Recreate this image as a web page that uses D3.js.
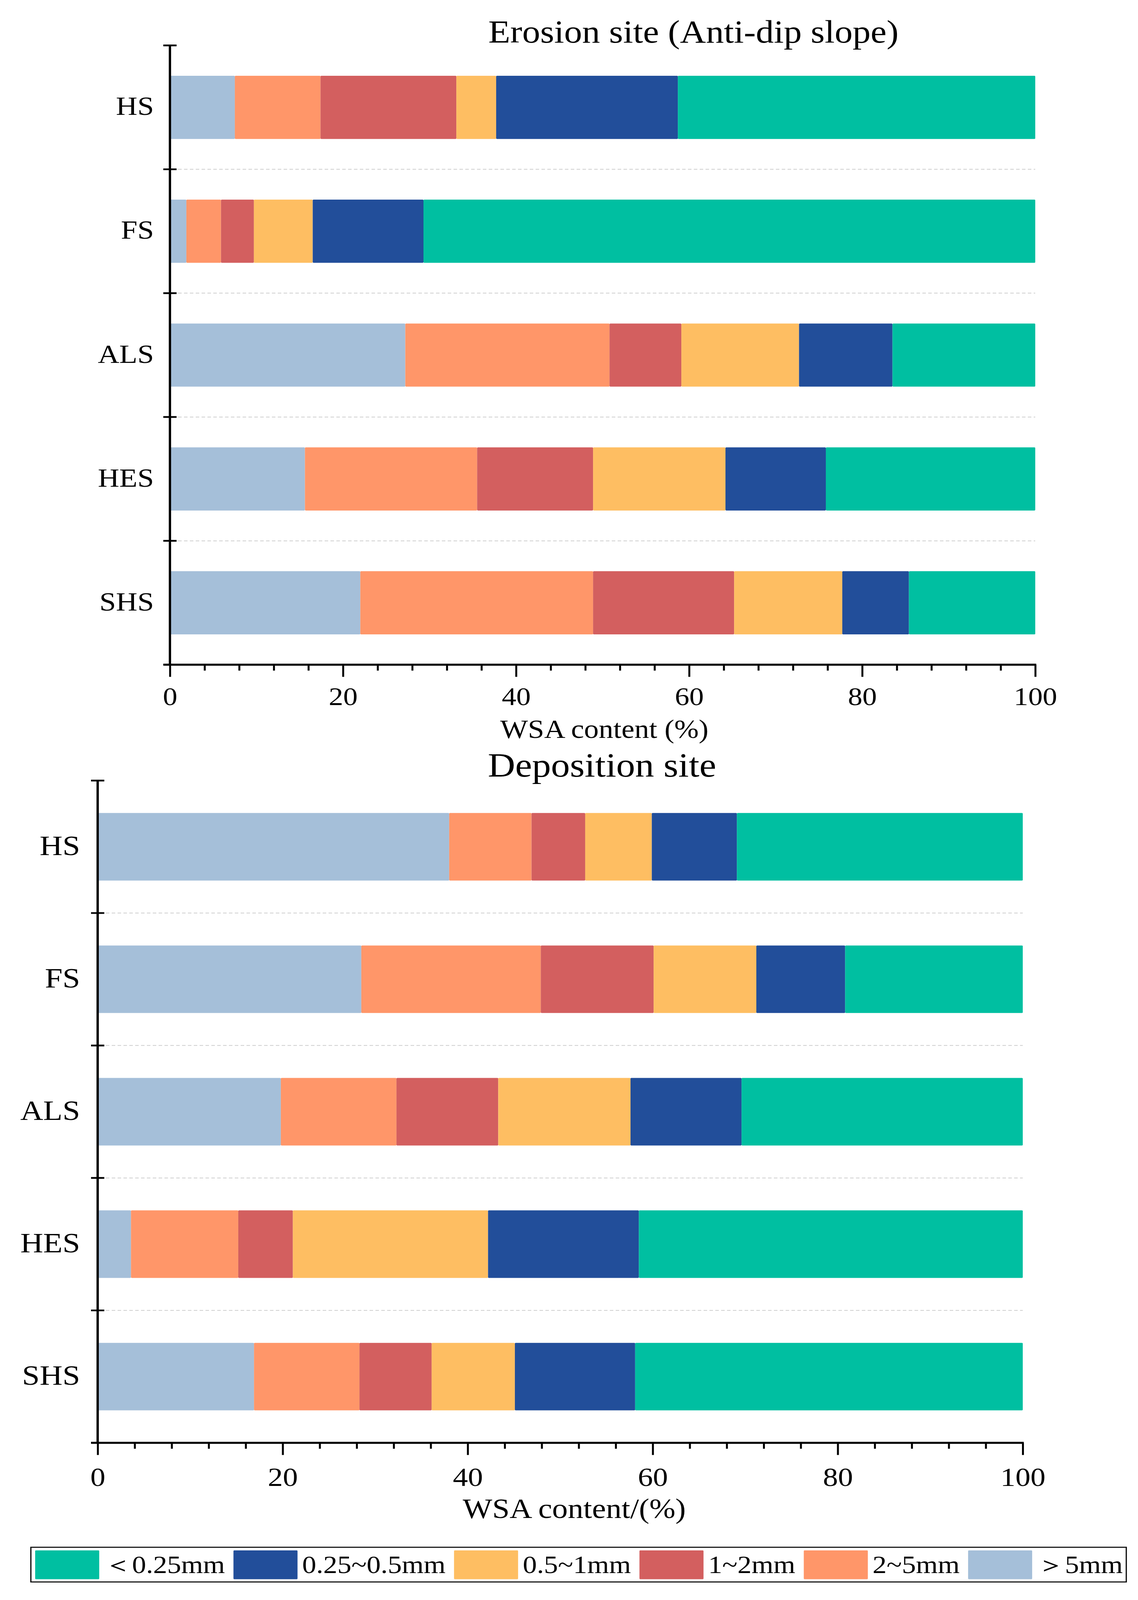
<!DOCTYPE html>
<html>
<head>
<meta charset="utf-8">
<script src="https://cdn.jsdelivr.net/npm/d3@7"></script>
<style>
  html, body { margin: 0; padding: 0; background: #fff; overflow: hidden; }
  svg { display: block; }
  text { font-family: "Liberation Serif", "Times New Roman", serif; fill: #000; }
</style>
</head>
<body>
<svg id="chart"></svg>
<script>
// ---------------- DATA ----------------
const categories = ["HS", "FS", "ALS", "HES", "SHS"];
const sizeKeys = [">5mm", "2~5mm", "1~2mm", "0.5~1mm", "0.25~0.5mm", "<0.25mm"]; // stacking order (left to right)
const legendLabels = ["＜0.25mm", "0.25~0.5mm", "0.5~1mm", "1~2mm", "2~5mm", "＞5mm"];
const legendKeys = ["<0.25mm", "0.25~0.5mm", "0.5~1mm", "1~2mm", "2~5mm", ">5mm"];
const xTicks = [0, 20, 40, 60, 80, 100];

// Erosion site (Anti-dip slope), % per size class, order follows categories
const eroGt5    = [7.5, 1.9, 27.2, 15.6, 22.0];
const ero2to5   = [9.9, 4.0, 23.6, 19.9, 26.9];
const ero1to2   = [15.7, 3.8, 8.3, 13.4, 16.3];
const ero05to1  = [4.6, 6.8, 13.6, 15.3, 12.5];
const ero025to05= [21.0, 12.8, 10.8, 11.6, 7.7];
const eroLt025  = [41.3, 70.7, 16.5, 24.2, 14.6];

// Deposition site
const depGt5    = [38.0, 28.5, 19.8, 3.6, 16.9];
const dep2to5   = [8.9, 19.4, 12.5, 11.6, 11.4];
const dep1to2   = [5.8, 12.2, 11.0, 5.9, 7.8];
const dep05to1  = [7.2, 11.1, 14.3, 21.1, 9.0];
const dep025to05= [9.2, 9.6, 12.0, 16.3, 13.0];
const depLt025  = [30.9, 19.2, 30.4, 41.5, 41.9];

const colors = {
  "<0.25mm": "#00BFA1",
  "0.25~0.5mm": "#224E9A",
  "0.5~1mm": "#FEBE62",
  "1~2mm": "#D35F5F",
  "2~5mm": "#FF9669",
  ">5mm": "#A5BFD9"
};

function buildRows(series) {
  return categories.map((c, i) => {
    const r = { cat: c };
    sizeKeys.forEach((k, j) => { r[k] = series[j][i]; });
    return r;
  });
}

const erosionRows = buildRows([eroGt5, ero2to5, ero1to2, ero05to1, ero025to05, eroLt025]);
const depositionRows = buildRows([depGt5, dep2to5, dep1to2, dep05to1, dep025to05, depLt025]);

// ---------------- DRAW ----------------
// Design canvas is 2913 x 4612; fit it to whatever viewport the browser gives.
const W = 2913, H = 4612;
const svg = d3.select("#chart")
  .attr("viewBox", `0 0 ${W} ${H}`)
  .attr("preserveAspectRatio", "none")
  .attr("width", window.innerWidth || W)
  .attr("height", window.innerHeight || H);
svg.append("rect").attr("width", W).attr("height", H).attr("fill", "#fff");

function drawPanel(opt) {
  const g = svg.append("g");
  const x = d3.scaleLinear().domain([0, 100]).range([opt.x0, opt.x1]);
  const y = d3.scaleBand().domain(categories).range([opt.y0, opt.y1])
    .paddingInner(0.49).paddingOuter(0.245);
  const step = y.step();

  // dashed separators between categories
  const bounds = d3.range(1, categories.length).map(i => opt.y0 + i * step);
  g.selectAll(".grid").data(bounds).enter().append("line")
    .attr("x1", opt.x0 + 6).attr("x2", opt.x1)
    .attr("y1", d => d).attr("y2", d => d)
    .attr("stroke", "#c8c8c8").attr("stroke-width", 2)
    .attr("stroke-dasharray", "9,6");

  // stacked bars
  const stack = d3.stack().keys(sizeKeys)(opt.rows);
  g.selectAll(".layer").data(stack).enter().append("g")
    .attr("fill", d => colors[d.key])
    .selectAll("rect").data(d => d).enter().append("rect")
    .attr("x", d => x(d[0]))
    .attr("width", d => Math.max(0, x(d[1]) - x(d[0])))
    .attr("y", d => y(d.data.cat))
    .attr("height", y.bandwidth())
    .attr("rx", 2);

  // x axis with major (20) and minor (4) ticks
  const xAxis = d3.axisBottom(x).tickValues(d3.range(0, 101, 4)).tickSize(0).tickFormat("");
  const ax = g.append("g").attr("transform", `translate(0,${opt.y1})`).call(xAxis);
  ax.select(".domain").remove();
  ax.selectAll(".tick line").remove();
  ax.selectAll(".tick").append("line")
    .attr("y1", 0)
    .attr("y2", d => (d % 20 === 0 ? 35 : 17))
    .attr("stroke", "#000").attr("stroke-width", 5);
  ax.selectAll(".tick").filter(d => xTicks.includes(d)).append("text")
    .attr("y", opt.tickBase)
    .attr("text-anchor", "middle")
    .attr("font-size", opt.tickFont)
    .text(d => d);
  g.append("line")
    .attr("x1", opt.x0 - 17).attr("x2", opt.x1 + 2.5)
    .attr("y1", opt.y1).attr("y2", opt.y1)
    .attr("stroke", "#000").attr("stroke-width", 6);

  // y axis
  g.append("line")
    .attr("x1", opt.x0).attr("x2", opt.x0)
    .attr("y1", opt.y0 - 2.5).attr("y2", opt.y1)
    .attr("stroke", "#000").attr("stroke-width", 6);
  const yTickPos = d3.range(0, categories.length).map(i => opt.y0 + i * step);
  g.selectAll(".ytick").data(yTickPos).enter().append("line")
    .attr("x1", opt.x0 - 17).attr("x2", opt.x0 + 17)
    .attr("y1", d => d).attr("y2", d => d)
    .attr("stroke", "#000").attr("stroke-width", 5);
  g.selectAll(".ylab").data(categories).enter().append("text")
    .attr("x", opt.x0 - opt.labGap)
    .attr("y", d => y(d) + y.bandwidth() / 2 + opt.labDy)
    .attr("text-anchor", "end")
    .attr("font-size", opt.labFont)
    .text(d => d);

  // axis title
  g.append("text")
    .attr("x", opt.xTitleX).attr("y", opt.y1 + opt.xTitleBase)
    .attr("text-anchor", "middle").attr("font-size", opt.xTitleFont)
    .text(opt.xTitle);

  // panel title
  g.append("text")
    .attr("x", opt.titleX).attr("y", opt.titleY)
    .attr("text-anchor", "middle").attr("font-size", opt.titleFont)
    .text(opt.title);
}

drawPanel({
  rows: erosionRows,
  x0: 435, x1: 2650, y0: 131, y1: 1916,
  tickFont: 74, tickBase: 116,
  labFont: 76, labGap: 41, labDy: 22,
  xTitle: "WSA content (%)", xTitleX: 1547, xTitleBase: 211, xTitleFont: 75,
  title: "Erosion site (Anti-dip slope)", titleX: 1775, titleY: 123, titleFont: 92
});

drawPanel({
  rows: depositionRows,
  x0: 250, x1: 2618, y0: 2250, y1: 4159,
  tickFont: 77, tickBase: 124,
  labFont: 81, labGap: 45, labDy: 24,
  xTitle: "WSA content/(%)", xTitleX: 1470, xTitleBase: 217, xTitleFont: 80,
  title: "Deposition site", titleX: 1541, titleY: 2239, titleFont: 97
});

// ---------------- LEGEND ----------------
const leg = svg.append("g");
const boxX0 = 79, boxX1 = 2883, boxY = 4460, boxH = 100;
leg.append("rect")
  .attr("x", boxX0).attr("y", boxY).attr("width", boxX1 - boxX0).attr("height", boxH)
  .attr("fill", "#fff").attr("stroke", "#000").attr("stroke-width", 3);

const swW = 164, swH = 83, swGap = 12;
const items = legendKeys.map((k, i) => {
  const sw = leg.append("rect")
    .attr("y", boxY + 9).attr("width", swW).attr("height", swH)
    .attr("rx", 2).attr("fill", colors[k]);
  const t = leg.append("text")
    .attr("y", boxY + 74)
    .attr("font-size", 72)
    .text(legendLabels[i]);
  return { sw, t, w: t.node().getComputedTextLength() };
});
// distribute items so that they fill the legend box like the reference
const startX = 90, endX = 2874;
const natural = d3.sum(items, d => swW + swGap + d.w);
const between = (endX - startX - natural) / (items.length - 1);
let lx = startX;
items.forEach(d => {
  d.sw.attr("x", lx);
  d.t.attr("x", lx + swW + swGap);
  lx += swW + swGap + d.w + between;
});
</script>
</body>
</html>
